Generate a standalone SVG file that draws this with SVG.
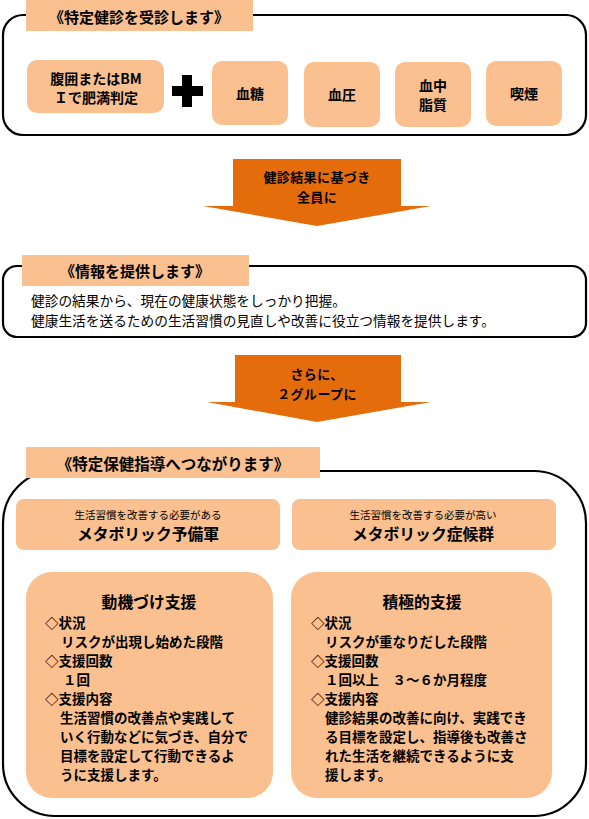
<svg xmlns="http://www.w3.org/2000/svg" width="589" height="819" viewBox="0 0 589 819">
<style>
.frame{fill:#fff;stroke:#000;stroke-width:2.2}
.peach{fill:#FAC090}
.arrow{fill:#E46C0A}
text{font-family:"Noto Sans CJK JP","Noto Sans CJK SC",sans-serif;fill:#000;dominant-baseline:central}
.hd{font-size:15px;font-weight:bold}
.it{font-size:14px;font-weight:bold;text-anchor:middle}
.ar{font-size:13px;font-weight:bold;text-anchor:middle;letter-spacing:0.4px}
.bd{font-size:13.7px}
.sm{font-size:10.5px;text-anchor:middle}
.lg{font-size:15.8px;font-weight:bold;text-anchor:middle}
.ln{font-size:13.5px;font-weight:bold}
</style>
<g id="section1">
<rect class="frame" x="3" y="15" width="583" height="120" rx="20"/>
<rect class="peach" x="26" y="0" width="227" height="31"/>
<text class="hd" x="139" y="16" text-anchor="middle">《特定健診を受診します》</text>
</g>
<g id="n-fukui"><rect class="peach" x="27" y="60" width="137" height="53" rx="10"/>
<text class="it" x="96" y="78">腹囲またはBM<tspan x="96" y="97">Ｉで肥満判定</tspan></text></g>
<g id="plus"><path d="M182 75h10v11h11v10h-11v11h-10v-11h-10v-10h10z" fill="#000"/></g>
<g id="n-ketto"><rect class="peach" x="212" y="61" width="76" height="64" rx="10"/><text class="it" x="250" y="93">血糖</text></g>
<g id="n-ketsuatsu"><rect class="peach" x="304" y="62" width="76" height="65" rx="10"/><text class="it" x="342" y="94">血圧</text></g>
<g id="n-shishitsu"><rect class="peach" x="395" y="62" width="76" height="65" rx="10"/><text class="it" x="433" y="85">血中<tspan x="433" y="104">脂質</tspan></text></g>
<g id="n-kitsuen"><rect class="peach" x="486" y="61" width="76" height="65" rx="10"/><text class="it" x="524" y="93">喫煙</text></g>
<g id="connectors">
<g id="arrow1"><path class="arrow" d="M233 159H401V206H431L317 226L203 206H233Z"/>
<text class="ar" x="317" y="176.5">健診結果に基づき<tspan x="317" y="195.5">全員に</tspan></text></g>
<g id="arrow2"><path class="arrow" d="M235 355H401V402H431L317 422L207 402H235Z"/>
<text class="ar" x="317" y="373.5">さらに、<tspan x="317" y="392.5">２グループに</tspan></text></g>
</g>
<g id="section2">
<rect class="frame" x="3" y="266" width="583" height="71" rx="14"/>
<rect class="peach" x="22" y="255" width="227" height="31"/>
<text class="hd" x="135" y="270" text-anchor="middle">《情報を提供します》</text>
<text class="bd" x="31" y="300">健診の結果から、現在の健康状態をしっかり把握。<tspan x="31" y="320">健康生活を送るための生活習慣の見直しや改善に役立つ情報を提供します。</tspan></text>
</g>
<g id="section3">
<rect class="frame" x="3" y="471" width="583" height="345" rx="52"/>
<rect class="peach" x="26" y="447" width="294" height="31"/>
<text class="hd" x="173" y="463" text-anchor="middle" style="font-size:15.5px">《特定保健指導へつながります》</text>
</g>
<g id="n-yobigun"><rect class="peach" x="16" y="499" width="264" height="51" rx="8"/>
<text class="sm" x="148" y="514">生活習慣を改善する必要がある</text><text class="lg" x="148" y="533">メタボリック予備軍</text></g>
<g id="n-shokogun"><rect class="peach" x="292" y="499" width="264" height="51" rx="8"/>
<text class="sm" x="423" y="514">生活習慣を改善する必要が高い</text><text class="lg" x="423" y="533">メタボリック症候群</text></g>
<g id="n-doukizuke"><rect class="peach" x="26" y="572" width="247" height="226" rx="26"/>
<text class="lg" x="149" y="601">動機づけ支援</text>
<text class="ln" x="45" y="622">◇状況<tspan x="61" y="641">リスクが出現し始めた段階</tspan><tspan x="45" y="660">◇支援回数</tspan><tspan x="63" y="679">１回</tspan><tspan x="45" y="698">◇支援内容</tspan><tspan x="60" y="717">生活習慣の改善点や実践して</tspan><tspan x="60" y="736">いく行動などに気づき、自分で</tspan><tspan x="60" y="755">目標を設定して行動できるよ</tspan><tspan x="60" y="774">うに支援します。</tspan></text>
</g>
<g id="n-sekkyoku"><rect class="peach" x="291" y="572" width="261" height="226" rx="26"/>
<text class="lg" x="422" y="601">積極的支援</text>
<text class="ln" x="311" y="622">◇状況<tspan x="325" y="641">リスクが重なりだした段階</tspan><tspan x="311" y="660">◇支援回数</tspan><tspan x="325" y="679">１回以上　３～６か月程度</tspan><tspan x="311" y="698">◇支援内容</tspan><tspan x="325" y="717">健診結果の改善に向け、実践でき</tspan><tspan x="325" y="736">る目標を設定し、指導後も改善さ</tspan><tspan x="325" y="755">れた生活を継続できるように支</tspan><tspan x="325" y="774">援します。</tspan></text>
</g>
</svg>
